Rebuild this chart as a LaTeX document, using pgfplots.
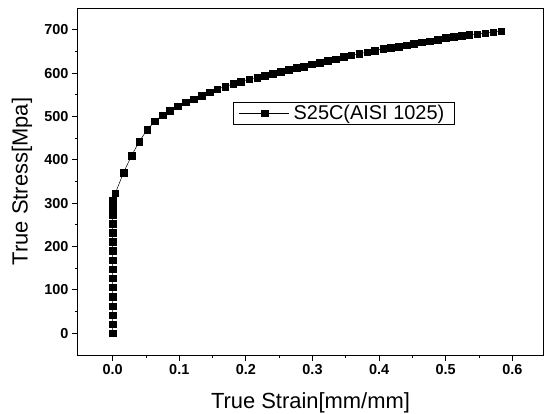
\documentclass[border=0pt]{standalone}
\usepackage{fontspec}
\setmainfont{Liberation Sans}
\usepackage{pgfplots}
\pgfplotsset{compat=1.18}
\begin{document}
\begin{tikzpicture}
\useasboundingbox (-78bp,-59bp) rectangle (473bp,355bp);
\begin{axis}[
  at={(0,0)}, anchor=south west,
  scale only axis, width=465bp, height=347bp,
  xmin=-0.052, xmax=0.646, ymin=-50, ymax=750,
  xtick={0,0.1,0.2,0.3,0.4,0.5,0.6},
  ytick={0,100,200,300,400,500,600,700},
  minor tick num=1,
  tick pos=left, tick align=outside,
  major tick length=6bp, minor tick length=3bp,
  axis line style={line width=1bp},
  every tick/.style={line width=0.9bp, black},
  /pgf/number format/assume math mode=true,
  xticklabel style={/pgf/number format/fixed, /pgf/number format/fixed zerofill, /pgf/number format/precision=1},
  ticklabel style={font=\fontsize{14.5}{15}\selectfont\bfseries},
  scaled x ticks=false,
  xlabel={True Strain[mm/mm]},
  ylabel={True Stress[Mpa]},
  label style={font=\fontsize{22}{23}\selectfont},
  xlabel style={at={(axis description cs:0.5,-0.137)}, anchor=center, inner sep=0pt},
  ylabel style={at={(axis description cs:-0.1204,0.5)}, anchor=center, inner sep=0pt},
  legend style={at={(0.333,0.729)}, anchor=north west, draw=black, line width=0.6bp,
    font=\fontsize{20}{21}\selectfont, inner xsep=6bp, inner ysep=1bp, nodes={inner ysep=2bp, inner xsep=4bp}},
  legend cell align=left,
  legend image code/.code={\draw[#1, mark repeat=2, mark phase=2] plot coordinates {(0bp,0bp) (25bp,0bp) (50bp,0bp)};},
]
\addplot[black, line width=0.5bp, mark=square*, mark size=3.3bp, mark options={solid, line width=0.3bp}] coordinates {
(0,0) (0,21) (0,42) (0,63) (0,85) (0,106) (0,127) (0,148) (0,169) (0,190)
(0,211) (0,232) (0,253) (0,274) (0,292) (0,307) (0.004,323)
(0.0165,371) (0.0285,410) (0.040,442) (0.0515,469) (0.0635,489) (0.075,503)
(0.086,513) (0.098,524) (0.1096,533) (0.1216,540) (0.1336,548) (0.146,556)
(0.157,563) (0.169,569) (0.181,575) (0.192,580) (0.205,586) (0.217,590)
(0.228,594) (0.240,599) (0.252,603) (0.264,608) (0.276,612) (0.287,615)
(0.299,621) (0.311,624) (0.323,629) (0.335,632) (0.347,638) (0.358,641)
(0.370,645) (0.382,648) (0.393,652) (0.406,656) (0.417,659) (0.429,661)
(0.441,664) (0.452,668) (0.464,671) (0.476,674) (0.488,677) (0.500,681)
(0.512,684) (0.524,686) (0.535,688) (0.547,690) (0.559,692) (0.571,694)
(0.583,697)
};
\addlegendentry{S25C(AISI 1025)}
\end{axis}
\end{tikzpicture}
\end{document}
